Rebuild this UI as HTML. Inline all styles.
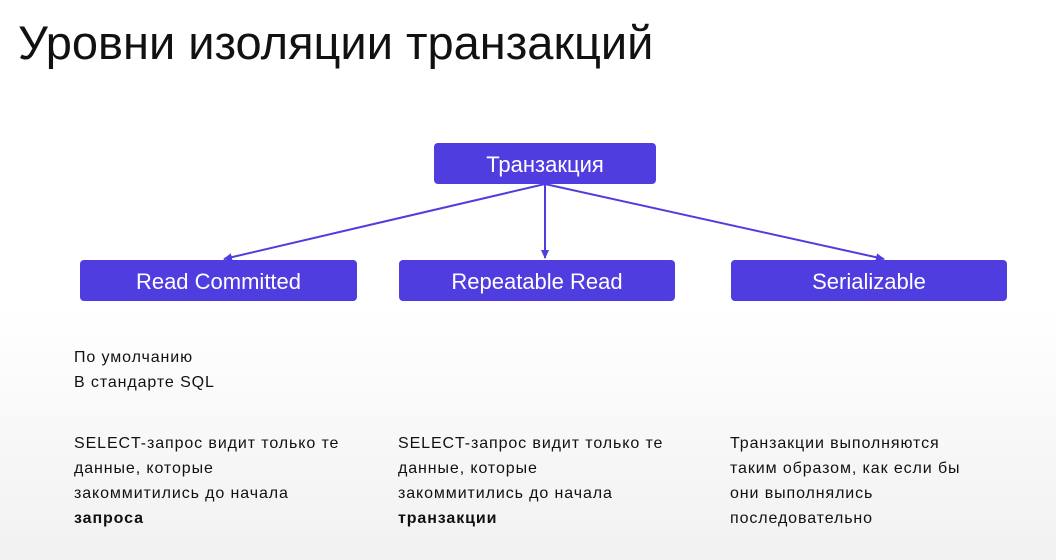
<!DOCTYPE html>
<html><head><meta charset="utf-8"><style>
body{margin:0;width:1056px;height:560px;overflow:hidden;background:linear-gradient(#fff 0%,#fff 55%,#f1f1f1 100%);font-family:"Liberation Sans","DejaVu Sans",sans-serif;position:relative;color:#111}
.t{position:absolute;left:18px;top:15px;font-size:47px;color:#111}
.b{position:absolute;background:#4f3de0;color:#fff;border-radius:4px;font-size:22px;display:flex;align-items:center;justify-content:center;height:41px;padding-top:2px;box-sizing:border-box}
.p{position:absolute;font-size:16px;line-height:25px;letter-spacing:0.9px}
</style></head><body>
<div class="t">Уровни изоляции транзакций</div>
<svg style="position:absolute;left:0;top:0" width="1056" height="560">
<defs><marker id="a" markerWidth="10" markerHeight="10" refX="8" refY="4" orient="auto" markerUnits="userSpaceOnUse"><path d="M0,0 L9,4 L0,8 z" fill="#4f3de0"/></marker></defs>
<g stroke="#4f3de0" stroke-width="2" fill="none">
<line x1="545" y1="184" x2="224" y2="259" marker-end="url(#a)"/>
<line x1="545" y1="184" x2="545" y2="258" marker-end="url(#a)"/>
<line x1="545" y1="184" x2="884" y2="259" marker-end="url(#a)"/>
</g></svg>
<div class="b" style="left:434px;top:143px;width:222px">Транзакция</div>
<div class="b" style="left:80px;top:260px;width:277px">Read Committed</div>
<div class="b" style="left:399px;top:260px;width:276px">Repeatable Read</div>
<div class="b" style="left:731px;top:260px;width:276px">Serializable</div>
<div class="p" style="left:74px;top:345px">По умолчанию<br>В стандарте SQL</div>
<div class="p" style="left:74px;top:431px">SELECT-запрос видит только те<br>данные, которые<br>закоммитились до начала<br><b>запроса</b></div>
<div class="p" style="left:398px;top:431px">SELECT-запрос видит только те<br>данные, которые<br>закоммитились до начала<br><b>транзакции</b></div>
<div class="p" style="left:730px;top:431px">Транзакции выполняются<br>таким образом, как если бы<br>они выполнялись<br>последовательно</div>
</body></html>
